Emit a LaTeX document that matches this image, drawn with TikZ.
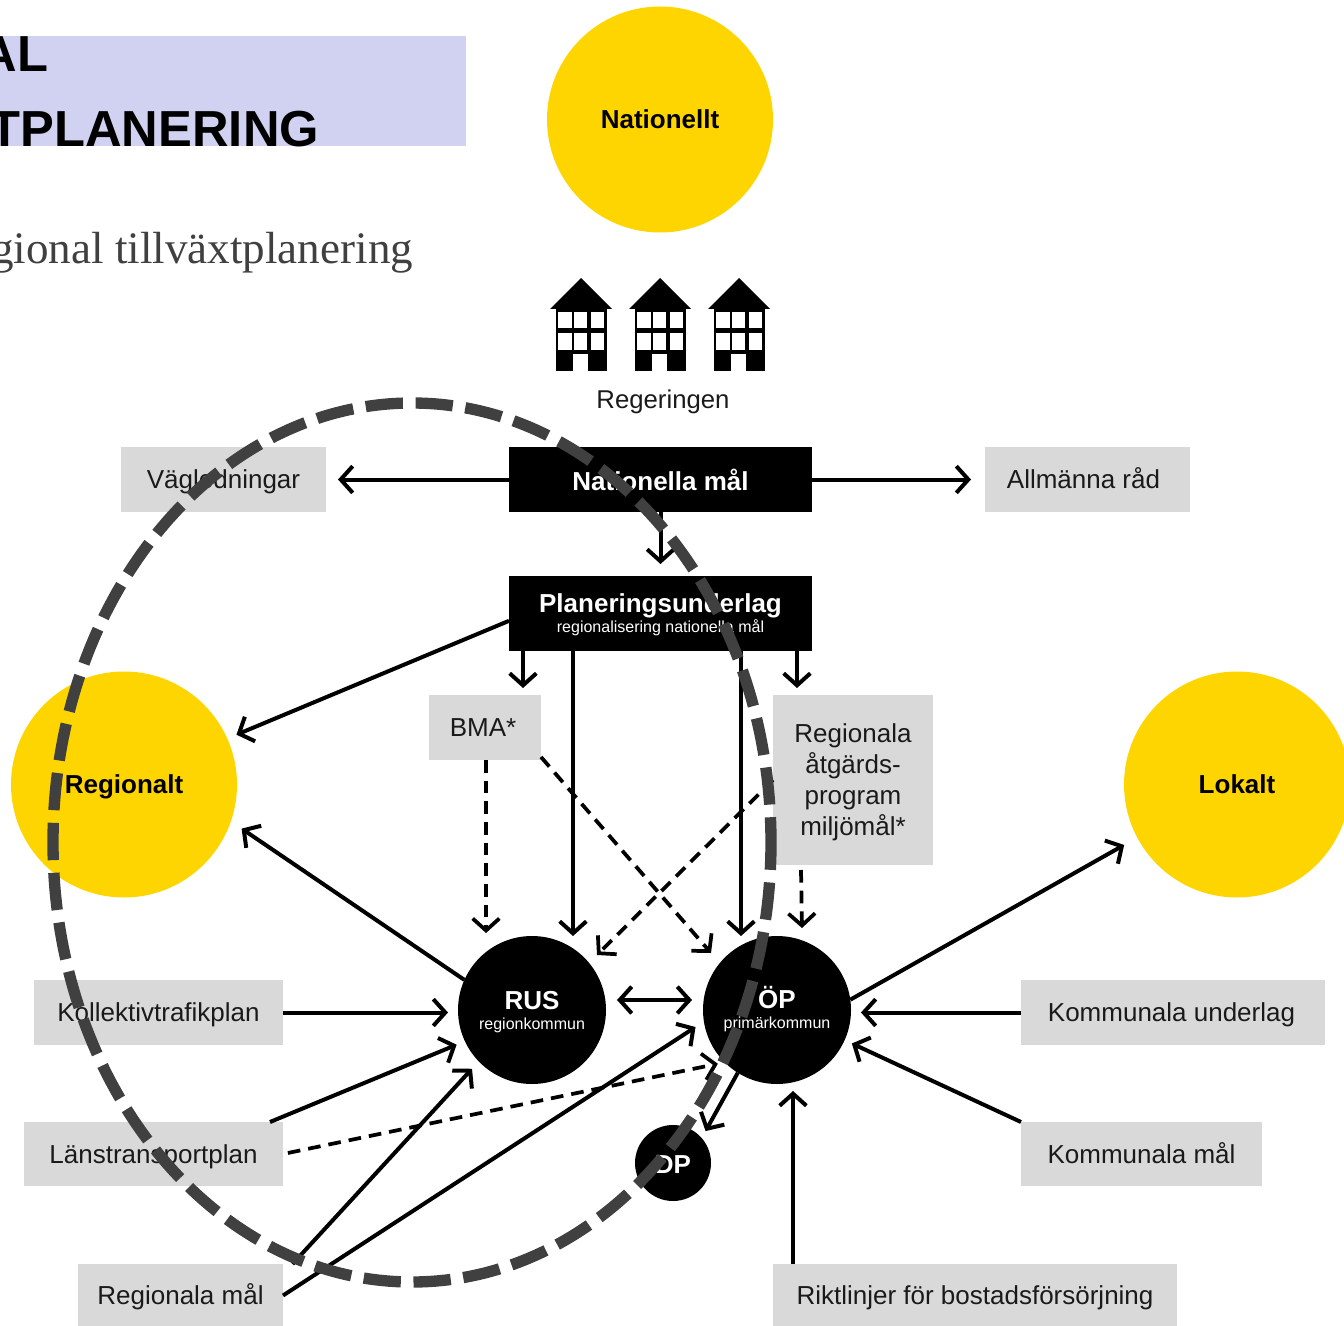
\documentclass[tikz,border=0pt]{standalone}
\usepackage{fontspec}
\setmainfont{Liberation Sans}
\newfontfamily\serifline{Liberation Serif}
\usetikzlibrary{arrows.meta}
\usetikzlibrary{shapes.geometric}
\newlength{\pxunit}
\setlength{\pxunit}{0.75pt}
\definecolor{goalyellow}{HTML}{FFD500}
\definecolor{boxgrey}{HTML}{D9D9D9}
\definecolor{headblue}{HTML}{D1D1F2}
\definecolor{ringgrey}{HTML}{404040}
\definecolor{inkblack}{HTML}{1A1A1A}
\tikzstyle{nodestyle}=[inner sep=0pt, outer sep=0pt, align=center, anchor=center]
\tikzstyle{edgestyle}=[draw, line width=3pt, ->, >={Straight Barb[length=9pt, width=20pt]}, shorten >=9\pxunit]
\tikzstyle{dashedge}=[edgestyle, line width=2.8pt, dash pattern=on 9.5pt off 6pt]
\tikzstyle{greybox}=[rectangle, nodestyle, fill=boxgrey, text=inkblack, font=\fontsize{19.5}{23.25}\selectfont]
\tikzstyle{greyline}=[greybox, text height=14pt, text depth=0pt]
\tikzstyle{blackbox}=[rectangle, nodestyle, fill=black, text=white, text depth=0pt, font=\fontsize{12}{15}\selectfont]
\tikzstyle{goalcircle}=[circle, nodestyle, fill=goalyellow, minimum size=226\pxunit, text height=14pt, text depth=0pt, font=\fontsize{19.5}{23}\selectfont\bfseries]
\tikzstyle{munccircle}=[circle, nodestyle, fill=black, text=white, text depth=0pt, font=\fontsize{12}{15}\selectfont]
\tikzstyle{ringstyle}=[draw=ringgrey, line width=8.5pt, dash pattern=on 28pt off 9.5pt, dash phase=7.5pt]
\newcommand{\titlefont}{\fontsize{19.5}{15}\selectfont\bfseries}
\newcommand{\govhouse}[1]{
  \begin{scope}[shift={(#1,0)}]
    \fill (0,278) -- (31,309) -- (-31,309) -- cycle;
    \fill (-25,309) rectangle (26,371);
    \fill [white] (-22.7,311.7) rectangle (-9.3,328.3);
    \fill [white] (-7,311.7) rectangle (6.3,328.3);
    \fill [white] (9.7,311.7) rectangle (23,328.3);
    \fill [white] (-22.7,332.7) rectangle (-9.3,350);
    \fill [white] (-7,332.7) rectangle (6.3,350);
    \fill [white] (9.7,332.7) rectangle (23,350);
    \fill [white] (-7.7,354.3) rectangle (7.3,371);
  \end{scope}
}

\begin{document}
\begin{tikzpicture}[x=\pxunit, y=-\pxunit]
\useasboundingbox (0,0) rectangle (1344,1326);
\fill [headblue] (0,36) rectangle (466,146);
\node [nodestyle, anchor=base east, font=\fontsize{38}{40}\selectfont\bfseries] (headone) at (48,72) {AL};
\node [nodestyle, anchor=base east, font=\fontsize{38}{40}\selectfont\bfseries] (headtwo) at (319,147) {TPLANERING};
\node [nodestyle, anchor=base east, text=ringgrey, font=\fontsize{33.8}{36}\serifline\selectfont] (subhead) at (413,264) {gional tillväxtplanering};

\foreach \bx in {581,660,739} {\govhouse{\bx}}
\node [nodestyle, text=inkblack, font=\fontsize{19.3}{23}\selectfont] (gov) at (663,402) {Regeringen};

\node [goalcircle] (national) at (660,119.5) {Nationellt};
\node [goalcircle] (regional) at (124,784.5) {Regionalt};
\node [goalcircle] (local) at (1237,784.5) {Lokalt};

\node [greyline, minimum width=205\pxunit, minimum height=65\pxunit] (guides) at (223.5,479.5) {Vägledningar};
\node [greyline, minimum width=205\pxunit, minimum height=65\pxunit] (advice) at (1087.5,479.5) {Allmänna råd\hspace*{8\pxunit}};
\node [blackbox, minimum width=303\pxunit, minimum height=65\pxunit] (natgoal) at (660.5,479.5) {\titlefont Nationella mål};
\node [blackbox, text depth=-2pt, minimum width=303\pxunit, minimum height=75\pxunit] (planbase) at (660.5,613.5) {\titlefont Planeringsunderlag\\regionalisering nationella mål};
\node [greyline, minimum width=112\pxunit, minimum height=65\pxunit] (bma) at (485,727.5) {BMA*\hspace*{4\pxunit}};
\node [greybox, text depth=0pt, minimum width=160\pxunit, minimum height=170\pxunit] (action) at (853,780) {Regionala\\åtgärds-\\program\\miljömål*};
\node [greyline, minimum width=249\pxunit, minimum height=65\pxunit] (traffic) at (158.5,1012.5) {Kollektivtrafikplan};
\node [greyline, minimum width=259\pxunit, minimum height=64\pxunit] (county) at (153.5,1154) {Länstransportplan};
\node [greyline, minimum width=205\pxunit, minimum height=63\pxunit] (reggoal) at (180.5,1295.5) {Regionala mål};
\node [greyline, minimum width=304\pxunit, minimum height=65\pxunit] (munbase) at (1173,1012.5) {Kommunala underlag\hspace*{3\pxunit}};
\node [greyline, minimum width=241\pxunit, minimum height=64\pxunit] (mungoal) at (1141.5,1154) {Kommunala mål};
\node [greyline, minimum width=404\pxunit, minimum height=63\pxunit] (housing) at (975,1295.5) {Riktlinjer för bostadsförsörjning};

\node [munccircle, minimum size=148\pxunit] (rus) at (532,1010) {{\titlefont RUS}\\regionkommun};
\node [munccircle, minimum size=148\pxunit] (op) at (777,1010) {{\titlefont\vphantom{R}\smash{ÖP}}\\primärkommun};
\node [munccircle, minimum size=76\pxunit, text height=16pt, font=\titlefont] (dp) at (673,1163) {DP};

\draw [edgestyle, shorten >=12\pxunit] (natgoal) -- (guides);
\draw [edgestyle, shorten >=14\pxunit] (natgoal) -- (advice);
\draw [edgestyle, shorten >=12\pxunit] (natgoal) -- (planbase);
\draw [edgestyle, shorten >=10\pxunit] ([yshift=-5.5pt]planbase.west) -- (regional.24);
\draw [edgestyle, shorten >=7\pxunit] ([xshift=-137.5\pxunit]planbase.south) -- ([xshift=38\pxunit]bma.north);
\draw [edgestyle, shorten >=0pt] ([xshift=-87.5\pxunit]planbase.south) -- ([xshift=41\pxunit]rus.north);
\draw [edgestyle, shorten >=0pt] ([xshift=80.5\pxunit]planbase.south) -- ([xshift=-36\pxunit]op.north);
\draw [edgestyle, shorten >=7\pxunit] ([xshift=136.5\pxunit]planbase.south) -- ([xshift=-56\pxunit]action.north);
\draw [dashedge, shorten >=0pt] ([xshift=1\pxunit]bma.south) -- ([xshift=-46\pxunit, yshift=3\pxunit]rus.north);
\draw [dashedge, shorten >=0pt] ([yshift=3\pxunit]bma.south east) -- ([xshift=-66\pxunit, yshift=-17\pxunit]op.north);
\draw [dashedge, shorten >=0pt] (action.west) -- ([xshift=65\pxunit, yshift=-19\pxunit]rus.north);
\draw [dashedge, shorten >=0pt] ([xshift=-52\pxunit, yshift=-5\pxunit]action.south) -- ([xshift=25\pxunit, yshift=8\pxunit]op.north);
\draw [edgestyle, shorten >=11\pxunit, shorten <=11\pxunit, <->] ([yshift=7.5pt]rus.east) -- ([yshift=7.5pt]op.west);
\draw [edgestyle, shorten >=13\pxunit] (rus.156) -- (regional.-19);
\draw [edgestyle, shorten >=15\pxunit] (op.8) -- (local.208);
\draw [edgestyle, shorten >=10\pxunit] (traffic.east) -- (traffic.east -| rus.west);
\draw [edgestyle] ([xshift=116.5\pxunit]county.north) -- (rus.205);
\draw [dashedge, shorten >=7\pxunit, shorten <=5\pxunit] (county.east) -- (op.225);
\draw [edgestyle, shorten >=10\pxunit] ([xshift=112\pxunit]reggoal.north) -- (rus.224);
\draw [edgestyle, shorten >=10\pxunit] (reggoal.east) -- (op.189);
\draw [edgestyle, shorten >=8\pxunit] (op.238) -- (dp.41);
\draw [edgestyle, shorten >=10\pxunit] (munbase.west) -- (munbase.west -| op.east);
\draw [edgestyle, shorten >=8\pxunit] (mungoal.north west) -- (op.-24);
\draw [edgestyle, shorten >=7\pxunit] ([xshift=-182\pxunit]housing.north) -- ([xshift=16\pxunit]op.south);

\draw [ringstyle] (412,842.5) ellipse [x radius=359, y radius=439.5];
\end{tikzpicture}
\end{document}
